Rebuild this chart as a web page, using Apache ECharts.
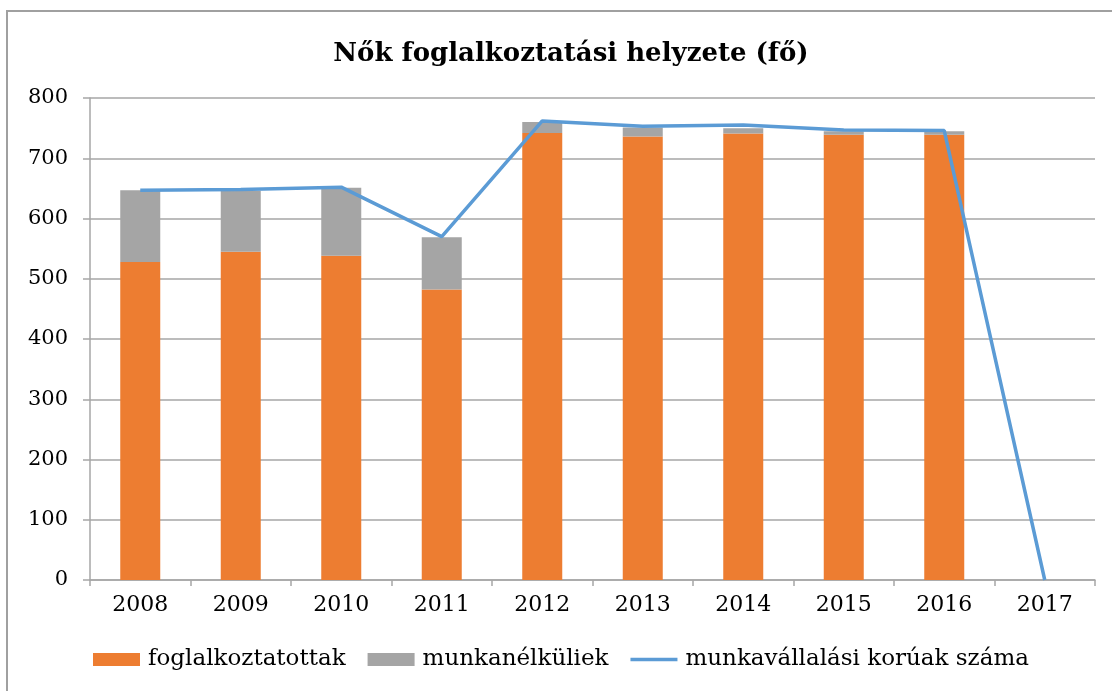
<!DOCTYPE html>
<html>
<head>
<meta charset="utf-8">
<script src="https://cdn.jsdelivr.net/npm/echarts@6/dist/echarts.min.js"></script>
<style>
html, body { margin: 0; padding: 0; background: #fff; }
#main { width: 1112px; height: 691px; }
</style>
</head>
<body>
<div id="main"></div>
<script>
var years = ['2008', '2009', '2010', '2011', '2012', '2013', '2014', '2015', '2016', '2017'];
var foglalkoztatottak = [528, 545, 538, 482, 742, 736, 741, 739, 739, null];
var munkanelkuliek = [119, 101, 113, 87, 18, 15, 9, 6, 6, null];
var korosztaly = [647, 648, 652, 570, 762, 753, 755, 747, 746, 0];

var font = 'DejaVu Serif';
var gridColor = '#a6a6a6';

var myChart = echarts.init(document.getElementById('main'));

var option = {
	backgroundColor: '#fff',
	animation: false,
	// keret (csak bal és felső él látszik)
	graphic: [{
		type: 'rect',
		shape: { x: 7, y: 11, width: 1200, height: 800 },
		style: { fill: 'none', stroke: '#a0a0a0', lineWidth: 2 }
	}],
	title: {
		text: 'Nők foglalkoztatási helyzete (fő)',
		left: 566,
		top: 36,
		textAlign: 'center',
		textStyle: { fontFamily: font, fontWeight: 'bold', fontSize: 26, color: '#000' }
	},
	grid: { left: 90, right: 17, top: 98, bottom: 111 },
	legend: {
		left: 88,
		top: 643,
		itemWidth: 47,
		itemHeight: 13,
		itemGap: 22,
		textStyle: { fontFamily: font, fontSize: 23, color: '#000', padding: [0, 0, 0, 3] },
		data: [
			{ name: 'foglalkoztatottak', icon: 'rect' },
			{ name: 'munkanélküliek', icon: 'rect' },
			{ name: 'munkavállalási korúak száma', icon: 'path://M0,0 L48,0 L48,3.5 L0,3.5 Z' }
		]
	},
	xAxis: {
		type: 'category',
		data: years,
		axisLine: { lineStyle: { color: gridColor, width: 1.5 } },
		axisTick: { show: true, length: 6, lineStyle: { color: gridColor, width: 1.5 } },
		axisLabel: { fontFamily: font, fontSize: 22, color: '#000', margin: 14 }
	},
	yAxis: {
		type: 'value',
		min: 0,
		max: 800,
		interval: 100,
		axisLine: { show: true, lineStyle: { color: gridColor, width: 1.5 } },
		axisTick: { show: true, length: 7, lineStyle: { color: gridColor, width: 1.5 } },
		splitLine: { lineStyle: { color: gridColor, width: 1.5 } },
		axisLabel: { fontFamily: font, fontSize: 21, color: '#000', margin: 22 }
	},
	series: [{
		name: 'foglalkoztatottak',
		type: 'bar',
		stack: 'ossz',
		barWidth: 40,
		itemStyle: { color: '#ED7D31' },
		data: foglalkoztatottak
	}, {
		name: 'munkanélküliek',
		type: 'bar',
		stack: 'ossz',
		barWidth: 40,
		itemStyle: { color: '#A5A5A5' },
		data: munkanelkuliek
	}, {
		name: 'munkavállalási korúak száma',
		type: 'line',
		symbol: 'none',
		lineStyle: { color: '#5B9BD5', width: 3.5 },
		itemStyle: { color: '#5B9BD5' },
		data: korosztaly
	}]
};

myChart.setOption(option);
</script>
</body>
</html>
